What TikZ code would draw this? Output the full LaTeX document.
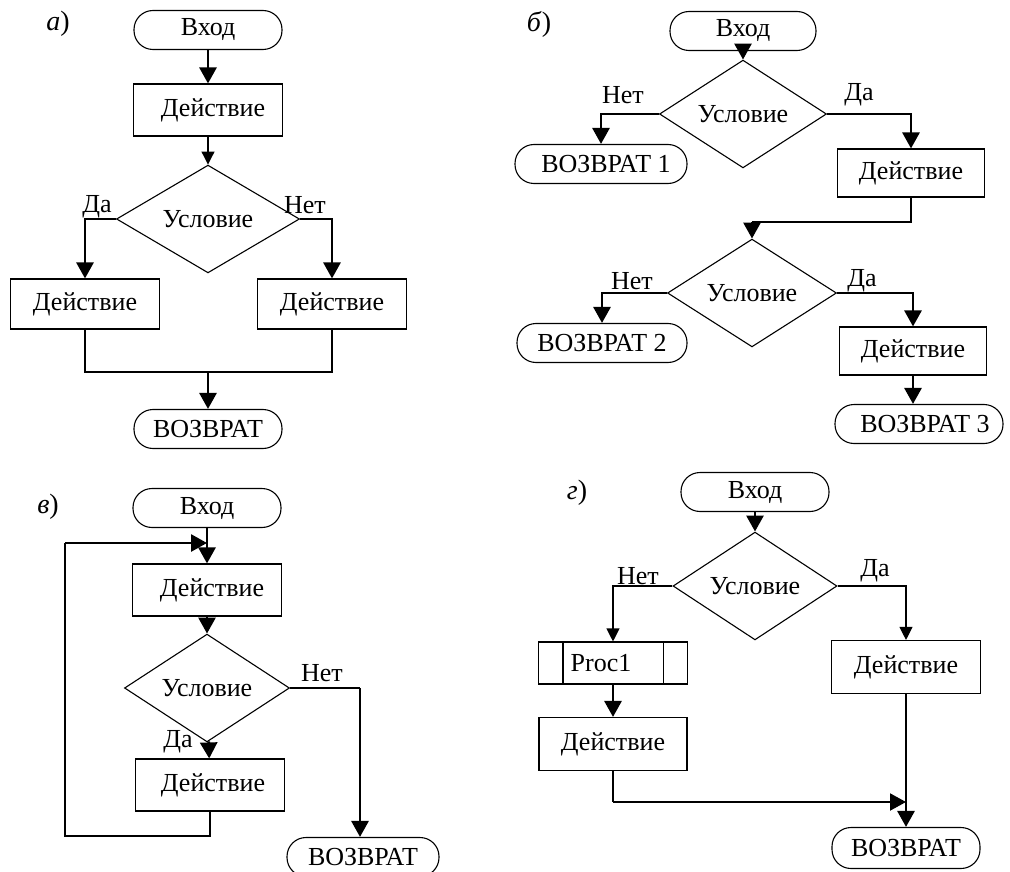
\documentclass[tikz,border=0pt]{standalone}
\usepackage{fontspec}
\setmainfont{Liberation Serif}
\usetikzlibrary{shapes.geometric, arrows.meta}

\begin{document}
\begin{tikzpicture}[x=1pt, y=-1pt,
  font=\fontsize{26}{30}\selectfont,
  term/.style={draw, line width=1.1pt, rounded corners=19pt,
    minimum width=148pt, minimum height=39pt, inner sep=0pt},
  act/.style={draw, line width=1.1pt, minimum width=149pt,
    minimum height=52pt, inner sep=0pt},
  cond/.style={draw, diamond, line width=1.1pt, minimum width=166pt,
    minimum height=78pt, inner sep=0pt},
  lbl/.style={inner sep=0pt},
  tag/.style={inner sep=0pt, font=\fontsize{28}{30}\selectfont},
  thn/.style={line width=1.1pt},
  med/.style={line width=2pt},
  thk/.style={line width=2.8pt},
  tip/.style={-{Triangle[length=16pt,width=17pt]}},
  tips/.style={-{Triangle[length=13pt,width=13pt]}}
]
\useasboundingbox (0,0) rectangle (1010,872);

% ---------- а) ----------
\node[tag] (ta) at (58,24) {\textit{а})};
\node[term] (a1) at (208,30) {Вход};
\node[act] (a2) at (208,110) {\hspace*{10pt}Действие};
\node[cond, minimum width=183pt, minimum height=80pt] (a3) at (208,219) {Условие};
\node[act, minimum height=50pt] (a4) at (85,304) {Действие};
\node[act, minimum height=50pt] (a5) at (332,304) {Действие};
\coordinate (a6) at (208,372);
\node[term] (a7) at (208,429) {ВОЗВРАТ};
\node[lbl] (ay) at (97,207) {Да};
\node[lbl] (an) at (305,205) {Нет};
\draw[thk,tip] (a1) -- (a2);
\draw[thn,tips] (a2) -- (a3);
\draw[thk,tip] (a3.west) -| (a4.north);
\draw[thk,tip] (a3.east) -| (a5.north);
\draw[thn] (a4.south) |- (a6) -| (a5.south);
\draw[thk,tip] (a6) -- (a7);

% ---------- б) ----------
\node[tag] (tb) at (539,24) {\textit{б})};
\node[term, minimum width=146pt] (b1) at (743,31) {Вход};
\node[cond, minimum width=167pt, minimum height=75pt] (b2) at (743,114) {Условие};
\node[term, minimum width=172pt] (b3) at (601,164) {\hspace*{10pt}ВОЗВРАТ 1};
\node[act, minimum width=147pt, minimum height=48pt] (b4) at (911,173) {Действие};
\coordinate (b4c) at (752,222);
\node[cond, minimum width=169pt, minimum height=76pt] (b5) at (752,293) {Условие};
\node[term, minimum width=170pt] (b6) at (602,343) {ВОЗВРАТ 2};
\node[act, minimum width=147pt, minimum height=48pt] (b7) at (913,351) {Действие};
\node[term, minimum width=168pt] (b8) at (919,424) {\hspace*{12pt}ВОЗВРАТ 3};
\node[lbl] (bn1) at (623,95) {Нет};
\node[lbl] (by1) at (859,95) {Да};
\node[lbl] (bn2) at (632,281) {Нет};
\node[lbl] (by2) at (862,281) {Да};
\draw[thk,tip] (b1) -- (b2);
\draw[thk,tip] (b2.west) -| (b3.north);
\draw[thk,tip] (b2.east) -| (b4.north);
\draw[thn] (b4.south) |- (b4c);
\draw[thk,tip] (b4c) -- (b5.north);
\draw[thk,tip] (b5.west) -| (b6.north);
\draw[thk,tip] (b5.east) -| (b7.north);
\draw[thk,tip] (b7.south) -- (b7.south |- b8.north);

% ---------- в) ----------
\node[tag] (tc) at (48,507) {\textit{в})};
\node[term] (c1) at (207,508) {Вход};
\node[act] (c2) at (207,590) {\hspace*{10pt}Действие};
\node[cond, minimum width=165pt, minimum height=79pt] (c3) at (207,688) {Условие};
\node[act] (c4) at (210,785) {\hspace*{6pt}Действие};
\node[term, minimum width=152pt] (c5) at (363,857) {ВОЗВРАТ};
\node[lbl] (cy) at (178,742) {Да};
\node[lbl] (cn) at (322,673) {Нет};
\coordinate (cj) at (207,543);
\coordinate (cl) at (65,836);
\coordinate (cr) at (360,688);
\draw[thk,tip] (c1) -- (c2);
\draw[thk,tip] (c2) -- (c3);
\draw[thk,tip] (c3) -- (c4);
\draw[thn] (c4.south) |- (cl) -- (cl |- cj);
\draw[thk,tip] (cl |- cj) -- (cj);
\draw[thn] (c3.east) -- (cr);
\draw[thk,tip] (cr) -- (cr |- c5.north);

% ---------- г) ----------
\node[tag] (td) at (577,493) {\textit{г})};
\node[term] (d1) at (755,492) {Вход};
\node[cond, minimum width=164pt, minimum height=81pt] (d2) at (755,586) {Условие};
\node[act, minimum height=42pt] (d3) at (613,663) {Proc1\hspace*{24pt}};
\draw[thn] ([xshift=25pt]d3.north west) -- ([xshift=25pt]d3.south west);
\draw[thn] ([xshift=-25pt]d3.north east) -- ([xshift=-25pt]d3.south east);
\node[act, minimum width=148pt, minimum height=53pt] (d4) at (613,744) {Действие};
\node[act, minimum height=53pt] (d5) at (906,667) {Действие};
\node[term, minimum height=41pt] (d6) at (906,848) {ВОЗВРАТ};
\coordinate (dm) at (906,802);
\node[lbl] (dn) at (638,576) {Нет};
\node[lbl] (dy) at (875,571) {Да};
\draw[thk,tip] (d1) -- (d2);
\draw[thn,tips] (d2.west) -| (d3.north);
\draw[thn,tips] (d2.east) -| (d5.north);
\draw[thk,tip] (d3) -- (d4);
\draw[thn] (d4.south) -- (d4.south |- dm);
\draw[med,tip] (d4.south |- dm) -- (dm);
\draw[thk,tip] (d5) -- (d6);
\end{tikzpicture}
\end{document}
